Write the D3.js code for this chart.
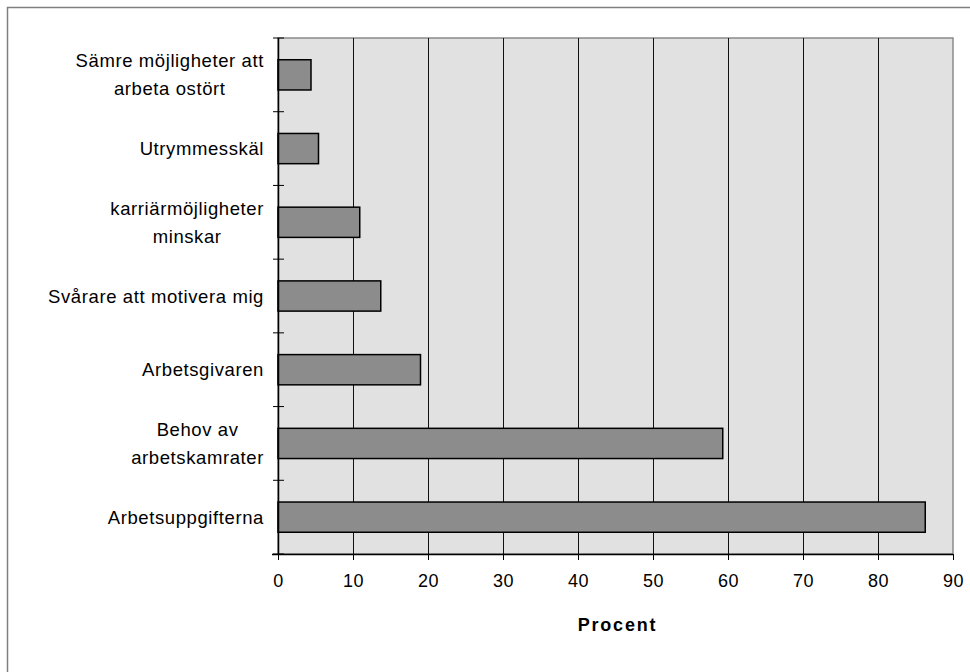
<!DOCTYPE html>
<html lang="sv">
<head>
<meta charset="UTF-8" />
<title>Procent</title>
<script src="https://d3js.org/d3.v7.min.js"></script>
<style>
    body { margin: 0; background: #fff; }
    svg { display: block; font-family: "Liberation Sans", Arial, sans-serif; }
</style>
</head>
<body>
<div id="chart"></div>
<script>
    // categories from top to bottom, labels split into lines
    const categories = [
        ["Sämre möjligheter att", "arbeta ostört"],
        ["Utrymmesskäl"],
        ["karriärmöjligheter", "minskar"],
        ["Svårare att motivera mig"],
        ["Arbetsgivaren"],
        ["Behov av", "arbetskamrater"],
        ["Arbetsuppgifterna"]
    ];
    const values = [4.4, 5.4, 10.9, 13.7, 19.0, 59.3, 86.3];
    const xTicks = [0, 10, 20, 30, 40, 50, 60, 70, 80, 90];

    const width = 970, height = 672;
    const plot = { left: 278, top: 38, right: 953, bottom: 554 };

    const svg = d3.select("#chart").append("svg")
        .attr("width", width)
        .attr("height", height);

    // outer chart border (only top and left are in frame)
    svg.append("rect")
        .attr("x", 7.5).attr("y", 7.5)
        .attr("width", width + 20).attr("height", height + 20)
        .attr("fill", "none")
        .attr("stroke", "#7f7f7f")
        .attr("stroke-width", 1.5);

    const x = d3.scaleLinear().domain([0, 90]).range([plot.left, plot.right]);
    const y = d3.scaleBand()
        .domain(d3.range(categories.length))
        .range([plot.top, plot.bottom])
        .paddingInner(0.59)
        .paddingOuter(0.295);

    // plot background
    svg.append("rect")
        .attr("x", plot.left).attr("y", plot.top)
        .attr("width", plot.right - plot.left)
        .attr("height", plot.bottom - plot.top)
        .attr("fill", "#e1e1e1")
        .attr("stroke", "#8a8a8a")
        .attr("stroke-width", 1.5);

    // vertical gridlines
    svg.append("g")
        .selectAll("line")
        .data(xTicks.filter(d => d > 0 && d < 90))
        .join("line")
        .attr("x1", d => Math.round(x(d)) + 0.5).attr("x2", d => Math.round(x(d)) + 0.5)
        .attr("y1", plot.top).attr("y2", plot.bottom)
        .attr("stroke", "#111")
        .attr("stroke-width", 1);

    // bars
    svg.append("g")
        .selectAll("rect")
        .data(values)
        .join("rect")
        .attr("x", x(0))
        .attr("y", (d, i) => y(i))
        .attr("width", d => x(d) - x(0))
        .attr("height", y.bandwidth())
        .attr("fill", "#8c8c8c")
        .attr("stroke", "#000")
        .attr("stroke-width", 1.5);

    // x axis
    const xAxis = svg.append("g")
        .attr("transform", `translate(0,${plot.bottom})`)
        .call(d3.axisBottom(x).tickValues(xTicks).tickSize(6).tickPadding(14).tickSizeOuter(0));
    xAxis.select(".domain").attr("stroke", "#000").attr("stroke-width", 1.5)
        .attr("d", `M${plot.left - 6},0.5H${plot.right}`);
    xAxis.selectAll(".tick line").attr("stroke", "#000");
    xAxis.selectAll(".tick text")
        .attr("font-size", 18)
        .attr("letter-spacing", 0.5)
        .attr("fill", "#000")
        .style("font-family", "'Liberation Sans', Arial, sans-serif");

    // y axis: ticks at band boundaries crossing the axis line
    const bandEdge = i => plot.top + i * (plot.bottom - plot.top) / categories.length;
    svg.append("line")
        .attr("x1", plot.left + 0.5).attr("x2", plot.left + 0.5)
        .attr("y1", plot.top).attr("y2", plot.bottom)
        .attr("stroke", "#000").attr("stroke-width", 1.5);
    svg.append("g")
        .selectAll("line")
        .data(d3.range(categories.length + 1))
        .join("line")
        .attr("x1", plot.left - 5).attr("x2", plot.left + 6)
        .attr("y1", i => bandEdge(i)).attr("y2", i => bandEdge(i))
        .attr("stroke", "#000").attr("stroke-width", 1);

    // category labels
    const lineH = 28;
    const labels = svg.append("g")
        .selectAll("text")
        .data(categories)
        .join("text")
        .attr("text-anchor", "middle")
        .attr("font-size", 18.5)
        .attr("letter-spacing", 0.6)
        .attr("fill", "#000")
        .attr("transform", (d, i) => {
            const cy = y(i) + y.bandwidth() / 2;
            return `translate(0,${cy - (d.length - 1) * lineH / 2 + 6.5})`;
        });
    labels.each(function (lines) {
        const t = d3.select(this);
        // lines centred on each other, block right-aligned next to the axis
        lines.forEach((s, j) => t.append("tspan").attr("x", 0).attr("dy", j === 0 ? 0 : lineH).text(s));
        const w = this.getBBox().width;
        t.selectAll("tspan").attr("x", 264 - w / 2);
    });

    // axis title
    svg.append("text")
        .attr("x", (plot.left + plot.right) / 2 + 2)
        .attr("y", 631)
        .attr("text-anchor", "middle")
        .attr("font-size", 18)
        .attr("font-weight", "bold")
        .attr("letter-spacing", 1.8)
        .attr("fill", "#000")
        .text("Procent");
</script>
</body>
</html>
